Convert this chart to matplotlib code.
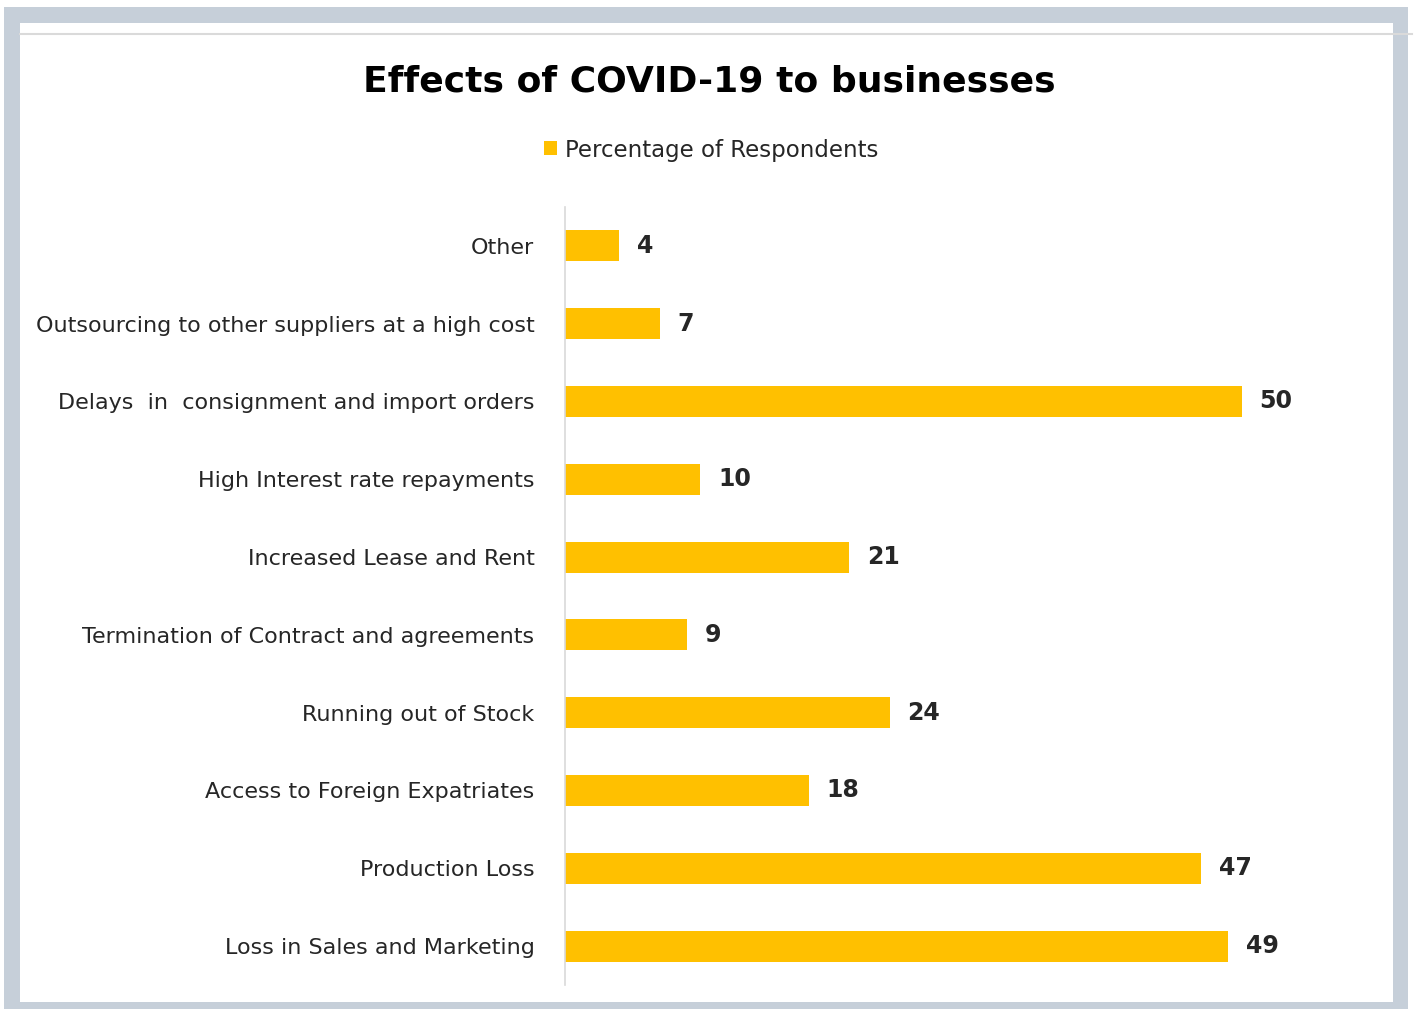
import matplotlib.pyplot as plt
from matplotlib.patches import Rectangle
from matplotlib.lines import Line2D

categories = [
    "Loss in Sales and Marketing",
    "Production Loss",
    "Access to Foreign Expatriates",
    "Running out of Stock",
    "Termination of Contract and agreements",
    "Increased Lease and Rent",
    "High Interest rate repayments",
    "Delays  in  consignment and import orders",
    "Outsourcing to other suppliers at a high cost",
    "Other",
]
values = [49, 47, 18, 24, 9, 21, 10, 50, 7, 4]

W, H = 1415, 1009
BAR = "#FFC000"
FRAME = "#C6CFD9"
TEXT = "#262626"

fig = plt.figure(figsize=(W / 100, H / 100), dpi=100)
fig.patch.set_facecolor("white")


def px_rect(x0, y0, x1, y1, **kw):
    # rectangle in pixel coords (origin top-left)
    return Rectangle((x0 / W, 1 - y1 / H), (x1 - x0) / W, (y1 - y0) / H,
                     transform=fig.transFigure, **kw)


fig.patches.append(px_rect(4, 7, 1408, 1009, facecolor=FRAME, edgecolor="none", zorder=-2))
fig.patches.append(px_rect(20, 23, 1393, 1002, facecolor="white", edgecolor="none", zorder=-1))
fig.lines.append(Line2D([20 / W, 1412 / W], [1 - 34 / H, 1 - 34 / H], transform=fig.transFigure,
                        color="#DADADA", linewidth=1.5, zorder=0.5))

# axes: left at x=565, y from 207 to 985
ax_l, ax_r = 565, 565 + 60 * 13.54
ax_t, ax_b = 207, 985
ax = fig.add_axes([ax_l / W, 1 - ax_b / H, (ax_r - ax_l) / W, (ax_b - ax_t) / H])
ax.set_zorder(3)
ax.set_facecolor("none")

bars = ax.barh(range(len(categories)), values, height=0.4, color=BAR,
               label="Percentage of Respondents")
ax.set_xlim(0, 60)
ax.set_ylim(-0.5, len(categories) - 0.5)
ax.set_yticks(range(len(categories)))
ax.set_yticklabels(categories, fontsize=16, color=TEXT)
ax.tick_params(axis="y", length=0, pad=22)
ax.set_xticks([])
for s in ["top", "right", "bottom"]:
    ax.spines[s].set_visible(False)
ax.spines["left"].set_color("#D9D9D9")
ax.spines["left"].set_linewidth(1.2)

for b, v in zip(bars, values):
    ax.text(b.get_width() + 1.3, b.get_y() + b.get_height() / 2, str(v),
            va="center", ha="left", fontsize=17, fontweight="bold", color=TEXT)

fig.text(709 / W, 1 - 82 / H, "Effects of COVID-19 to businesses", ha="center", va="center",
         fontsize=26, fontweight="bold", color="black")

fig.legend(loc="center", bbox_to_anchor=(711 / W, 1 - 150 / H), frameon=False,
           fontsize=16.5, handlelength=0.55, handleheight=0.55, handletextpad=0.35,
           labelcolor=TEXT)

fig.savefig("out.png", dpi=100)
